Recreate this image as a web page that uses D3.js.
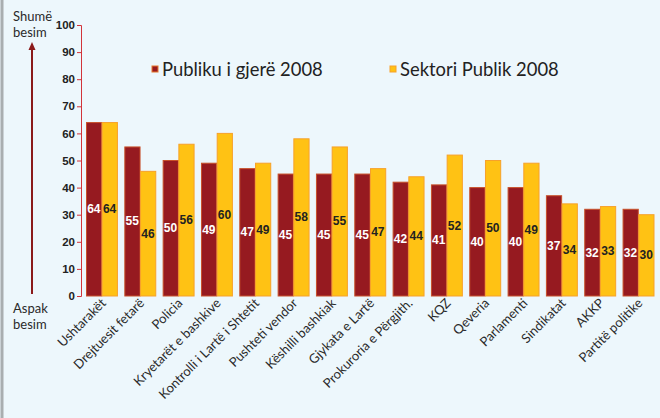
<!DOCTYPE html>
<html>
<head>
<meta charset="utf-8">
<script src="https://cdn.jsdelivr.net/npm/d3@7.9.0/dist/d3.min.js"></script>
<style>
  body { margin: 0; background: #edf7fc; }
  svg { display: block; }
</style>
</head>
<body>
<svg id="chart" width="660" height="418"></svg>
<script>
// data
const categories = ["Ushtarakët", "Drejtuesit fetarë", "Policia", "Kryetarët e bashkive",
  "Kontrolli i Lartë i Shtetit", "Pushteti vendor", "Këshilli bashkiak", "Gjykata e Lartë",
  "Prokuroria e Përgjith.", "KQZ", "Qeveria", "Parlamenti", "Sindikatat", "AKKP", "Partitë politike"];
const publiku = [64, 55, 50, 49, 47, 45, 45, 45, 42, 41, 40, 40, 37, 32, 32];
const sektori = [64, 46, 56, 60, 49, 58, 55, 47, 44, 52, 50, 49, 34, 33, 30];
const seriesNames = ["Publiku i gjerë 2008", "Sektori Publik 2008"];
const yTicks = [0, 10, 20, 30, 40, 50, 60, 70, 80, 90, 100];

const red = "#961a20", redStroke = "#c8502a";
const yellow = "#ffc214", yellowStroke = "#f7a12a";
const labelFont = "Lato, 'Open Sans', sans-serif";

const svg = d3.select("#chart");

// left frame line
svg.append("line").attr("x1", 2).attr("x2", 2).attr("y1", 0).attr("y2", 418)
  .attr("stroke", "#a9aeb0").attr("stroke-width", 3);

const x = d3.scaleBand().domain(categories).range([86, 654]).paddingInner(0.18).paddingOuter(0);
const xs = d3.scaleBand().domain([0, 1]).range([0, x.bandwidth()]);
const y = d3.scaleLinear().domain([0, 100]).range([296, 25]);

// y axis
const yAxis = svg.append("g").attr("transform", "translate(81,0)")
  .call(d3.axisLeft(y).tickValues(yTicks).tickSize(4).tickPadding(2));
yAxis.select(".domain").attr("stroke", "#d2343a").attr("d", "M-4,25.5H0.5V296.5H-4");
yAxis.selectAll(".tick line").attr("stroke", "#d2343a");
yAxis.selectAll(".tick text")
  .attr("fill", "#222").attr("font-family", "'Liberation Sans', Arial, sans-serif")
  .attr("font-weight", "bold").attr("font-size", 11.5);

// bars
const groups = svg.append("g").selectAll("g").data(categories).join("g")
  .attr("transform", d => `translate(${x(d)},0)`);

[publiku, sektori].forEach((vals, s) => {
  groups.append("rect")
    .attr("x", xs(s) + 0.5)
    .attr("y", (d, i) => y(vals[i]))
    .attr("width", xs.bandwidth() - 0.5)
    .attr("height", (d, i) => y(0) - y(vals[i]))
    .attr("fill", s === 0 ? red : yellow)
    .attr("stroke", s === 0 ? redStroke : yellowStroke)
    .attr("stroke-width", 1);

  groups.append("text")
    .attr("x", xs(s) + xs.bandwidth() / 2)
    .attr("y", (d, i) => (y(vals[i]) + y(0)) / 2 + 4)
    .attr("text-anchor", "middle")
    .attr("font-family", "'Liberation Sans', Arial, sans-serif")
    .attr("font-weight", "bold").attr("font-size", 12)
    .attr("fill", s === 0 ? "#fff" : "#222")
    .text((d, i) => vals[i]);
});

// category labels, rotated
svg.append("g").selectAll("text").data(categories).join("text")
  .attr("transform", d => `translate(${x(d) + x.bandwidth() / 2 + 5},304) rotate(-45)`)
  .attr("text-anchor", "end")
  .attr("font-family", labelFont).attr("font-size", 13)
  .attr("fill", "#2a2a2a")
  .text(d => d);

// legend
const legend = svg.append("g");
const legendX = [152, 390];
seriesNames.forEach((name, s) => {
  legend.append("rect").attr("x", legendX[s]).attr("y", 66).attr("width", 6).attr("height", 6)
    .attr("fill", s === 0 ? red : yellow).attr("stroke", s === 0 ? "#e8762b" : yellowStroke);
  legend.append("text").attr("x", legendX[s] + 10).attr("y", 76)
    .attr("font-family", labelFont).attr("font-size", 18.4).attr("fill", "#222")
    .text(name);
});

// trust arrow on the left
svg.append("line").attr("x1", 32).attr("x2", 32).attr("y1", 48).attr("y2", 294)
  .attr("stroke", "#8b1a1a").attr("stroke-width", 2);
svg.append("path").attr("d", "M28.5,50L32,42L35.5,50Z").attr("fill", "#8b1a1a");

const sideText = [["Shumë", 21], ["besim", 37], ["Aspak", 313], ["besim", 329]];
svg.append("g").selectAll("text").data(sideText).join("text")
  .attr("x", 13).attr("y", d => d[1])
  .attr("font-family", labelFont).attr("font-size", 13).attr("fill", "#2a2a2a")
  .text(d => d[0]);
</script>
</body>
</html>
